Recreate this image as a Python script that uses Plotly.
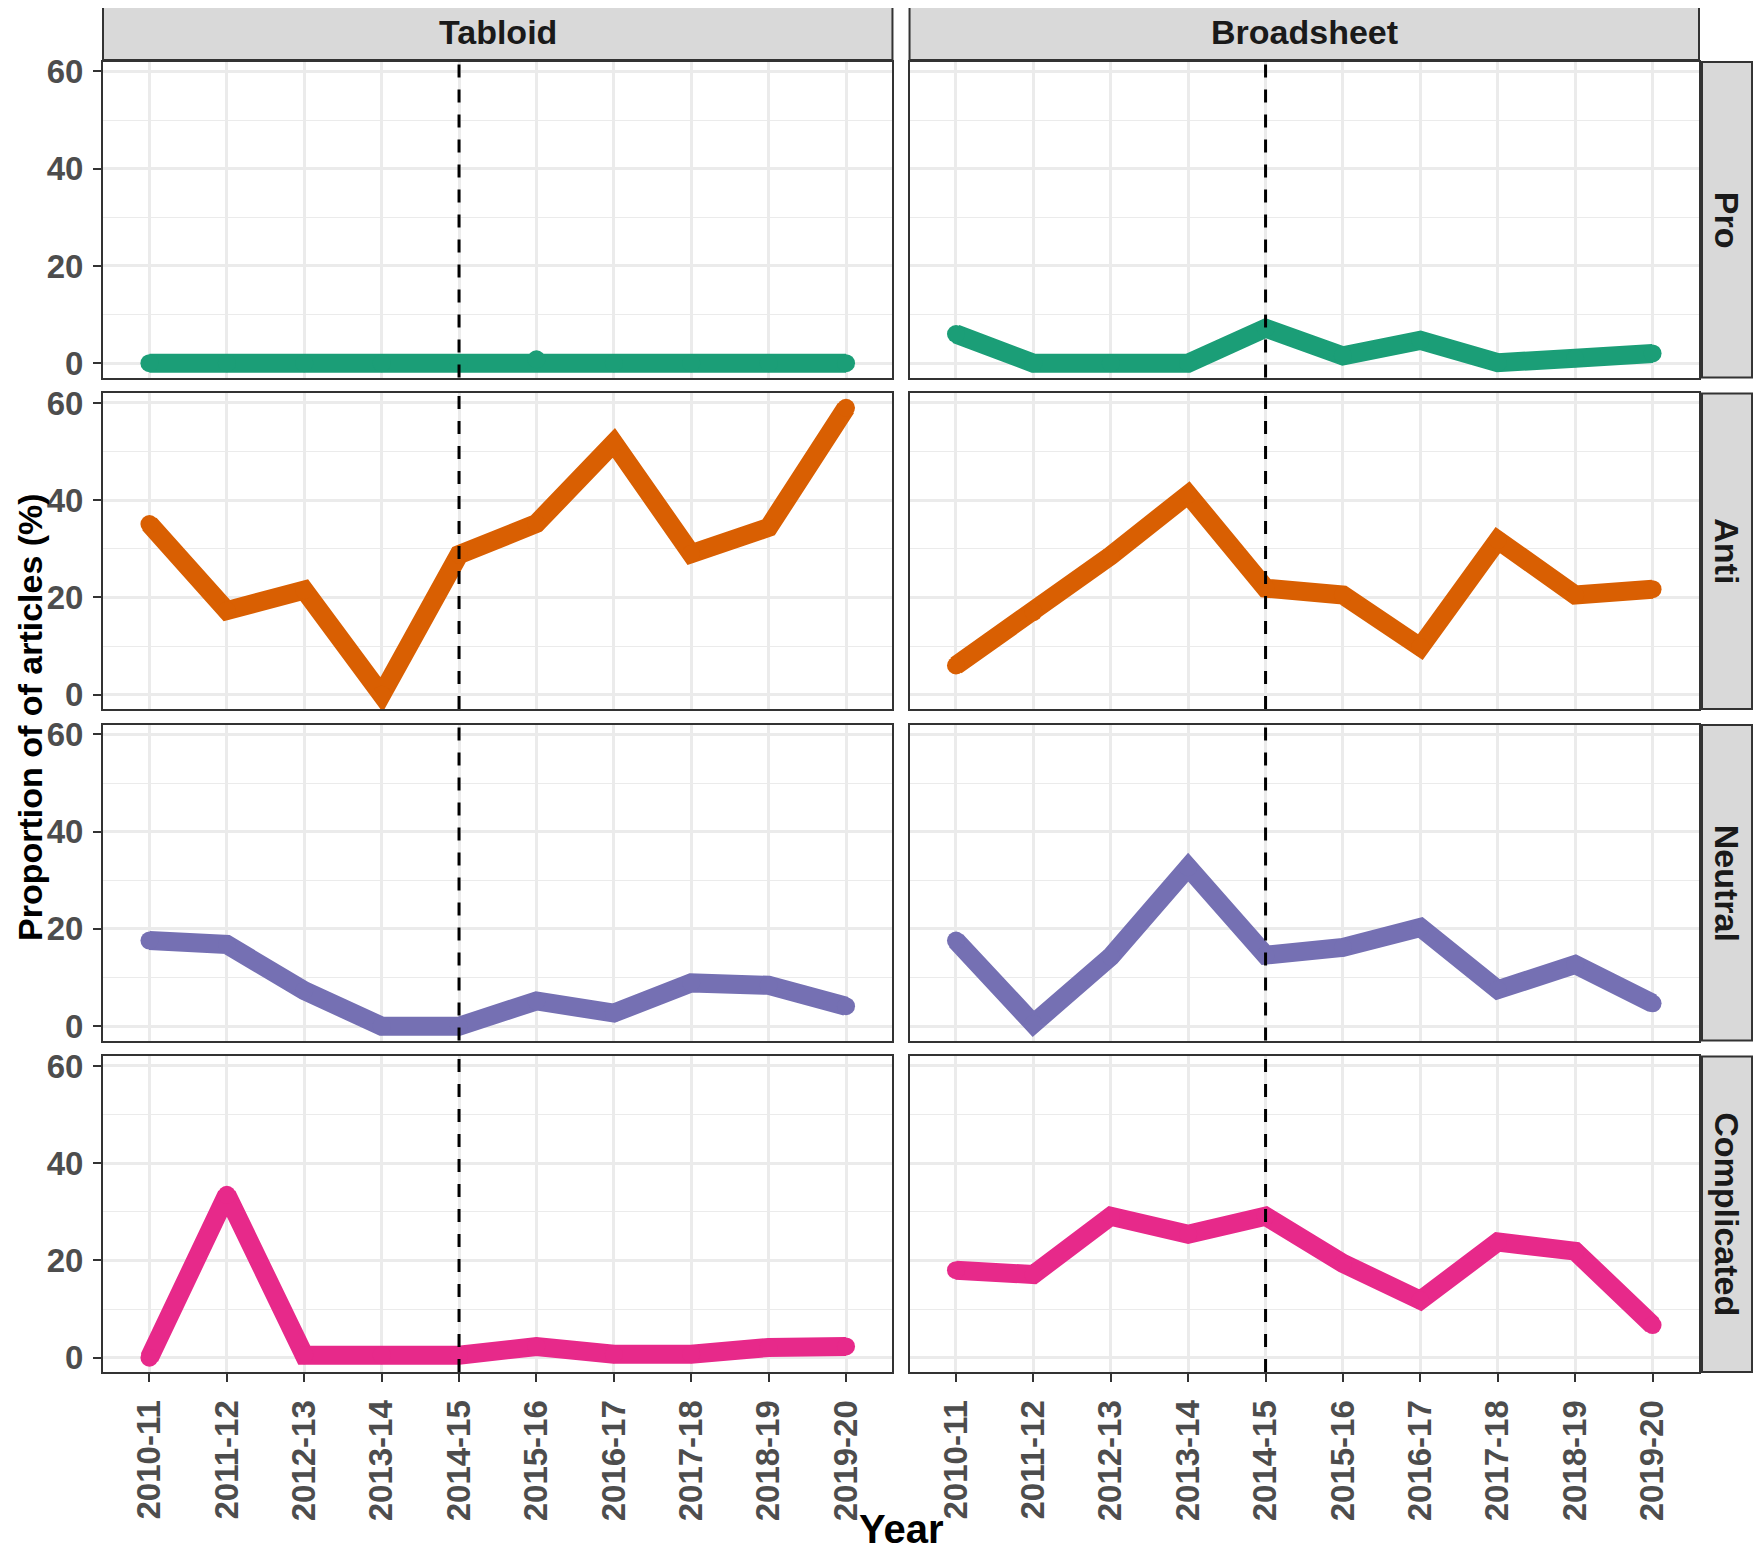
import plotly.graph_objects as go
from plotly.subplots import make_subplots

# données (% des articles)
YEARS = ["2010-11", "2011-12", "2012-13", "2013-14", "2014-15",
         "2015-16", "2016-17", "2017-18", "2018-19", "2019-20"]
PAPERS = ["Tabloid", "Broadsheet"]
STANCES = ["Pro", "Anti", "Neutral", "Complicated"]
VLINE_YEAR = "2014-15"
Y_TICKS = [0, 20, 40, 60]
Y_MINOR = [10, 30, 50]

tabloid_pro = [0, 0, 0, 0, 0, 0.8, 0, 0, 0, 0]
tabloid_anti = [35.1, 17.3, 21.5, 0, 28.8, 35.2, 51.8, 29.0, 34.4, 59.0]
tabloid_neutral = [17.6, 16.8, 7.3, 0, 0, 5.2, 2.7, 8.9, 8.4, 4.1]
tabloid_complicated = [0, 33.5, 0.5, 0.5, 0.5, 2.3, 0.7, 0.7, 2.1, 2.3]

broadsheet_pro = [6.0, 0, 0, 0, 7.2, 1.5, 4.7, 0.1, 1.0, 2.0]
broadsheet_anti = [6.0, 17.0, 28.6, 41.2, 21.9, 20.5, 9.8, 31.8, 20.5, 21.7]
broadsheet_neutral = [17.6, 0.5, 14.3, 32.7, 14.6, 16.2, 20.3, 7.5, 12.7, 4.7]
broadsheet_complicated = [18.0, 17.1, 29.1, 25.4, 29.1, 19.4, 11.8, 23.8, 21.9, 6.7]

series = {
    ("Tabloid", "Pro"): tabloid_pro,
    ("Tabloid", "Anti"): tabloid_anti,
    ("Tabloid", "Neutral"): tabloid_neutral,
    ("Tabloid", "Complicated"): tabloid_complicated,
    ("Broadsheet", "Pro"): broadsheet_pro,
    ("Broadsheet", "Anti"): broadsheet_anti,
    ("Broadsheet", "Neutral"): broadsheet_neutral,
    ("Broadsheet", "Complicated"): broadsheet_complicated,
}

# palette Dark2
COLORS = {"Pro": "#1B9E77", "Anti": "#D95F02",
          "Neutral": "#7570B3", "Complicated": "#E7298A"}

FONT = "Liberation Sans, Arial, sans-serif"
GRID = "#EBEBEB"
BORDER = "#333333"
STRIP_FILL = "#D9D9D9"
LW = 19

fig = make_subplots(rows=4, cols=2,
                    horizontal_spacing=0.0107, vertical_spacing=0.0122)

for r, stance in enumerate(STANCES, start=1):
    for c, paper in enumerate(PAPERS, start=1):
        fig.add_trace(go.Scatter(
            x=YEARS, y=series[(paper, stance)], mode="lines+markers",
            line=dict(color=COLORS[stance], width=LW),
            marker=dict(color=COLORS[stance], size=LW - 1),
            showlegend=False, hoverinfo="x+y"),
            row=r, col=c)
        fig.add_vline(x=VLINE_YEAR, line=dict(color="black", width=3, dash="13px,12px"),
                      row=r, col=c)

        bottom = r == 4
        left = c == 1
        fig.update_xaxes(
            type="category", categoryorder="array", categoryarray=YEARS,
            range=[-0.6, len(YEARS) - 0.4],
            showgrid=True, gridcolor=GRID, gridwidth=2.5, zeroline=False,
            showline=True, mirror=True, linecolor=BORDER, linewidth=2,
            ticks="outside" if bottom else "", ticklen=8, tickwidth=2, tickcolor=BORDER,
            showticklabels=bottom, tickangle=-90, ticklabelstandoff=5,
            tickfont=dict(family=FONT, size=33, color="#4D4D4D", weight="bold"),
            row=r, col=c)
        fig.update_yaxes(
            range=[-2.95, 61.95], tickvals=Y_TICKS,
            showgrid=True, gridcolor=GRID, gridwidth=2.5, zeroline=False,
            minor=dict(tickvals=Y_MINOR, showgrid=True, gridcolor=GRID,
                       gridwidth=1.3, ticks=""),
            showline=True, mirror=True, linecolor=BORDER, linewidth=2,
            ticks="outside" if left else "", ticklen=8, tickwidth=2, tickcolor=BORDER,
            showticklabels=left, ticklabelstandoff=3,
            tickfont=dict(family=FONT, size=33, color="#4D4D4D", weight="bold"),
            row=r, col=c)

# bandeaux (strips) façon ggplot
panel_w = 789
panel_h = 315
for c, paper in enumerate(PAPERS, start=1):
    xa = "x" if c == 1 else f"x{c}"
    ya = "y" if c == 1 else f"y{c}"
    y0 = 1 + 2 / panel_h
    y1 = 1 + 58 / panel_h
    fig.add_shape(type="rect", xref=f"{xa} domain", yref=f"{ya} domain",
                  x0=0, x1=1, y0=y0, y1=y1, fillcolor=STRIP_FILL,
                  line=dict(color=BORDER, width=2), layer="below")
    fig.add_annotation(xref=f"{xa} domain", yref=f"{ya} domain", x=0.5, y=(y0 + y1) / 2,
                       xanchor="center", yanchor="middle",
                       text=paper, showarrow=False,
                       font=dict(family=FONT, size=34, color="#1A1A1A", weight="bold"))

for r, stance in enumerate(STANCES, start=1):
    idx = (r - 1) * 2 + 2
    xa, ya = f"x{idx}", f"y{idx}"
    x0 = 1 + 3 / panel_w
    x1 = 1 + 53 / panel_w
    fig.add_shape(type="rect", xref=f"{xa} domain", yref=f"{ya} domain",
                  x0=x0, x1=x1, y0=0, y1=1, fillcolor=STRIP_FILL,
                  line=dict(color=BORDER, width=2), layer="below")
    fig.add_annotation(xref=f"{xa} domain", yref=f"{ya} domain", x=(x0 + x1) / 2, y=0.5,
                       xanchor="center", yanchor="middle",
                       text=stance, showarrow=False, textangle=90,
                       font=dict(family=FONT, size=34, color="#1A1A1A", weight="bold"))

# titres des axes
fig.add_annotation(xref="paper", yref="paper", x=(22 - 95) / 1596, y=0.5,
                   xanchor="center", yanchor="middle", borderpad=0,
                   text="Proportion of of articles (%)", showarrow=False, textangle=-90,
                   font=dict(family=FONT, size=34, color="black", weight="bold"))
fig.add_annotation(xref="paper", yref="paper", x=0.5, y=-180 / 1310,
                   xanchor="center", yanchor="bottom", borderpad=0,
                   text="Year", showarrow=False,
                   font=dict(family=FONT, size=40, color="black", weight="bold"))

# la page ajoute 8 px de marge autour du graphique
fig.update_layout(
    width=1745, height=1544,
    margin=dict(l=95, r=54, t=54, b=180),
    plot_bgcolor="white", paper_bgcolor="white",
    font=dict(family=FONT),
)

fig.write_html("out.html")
